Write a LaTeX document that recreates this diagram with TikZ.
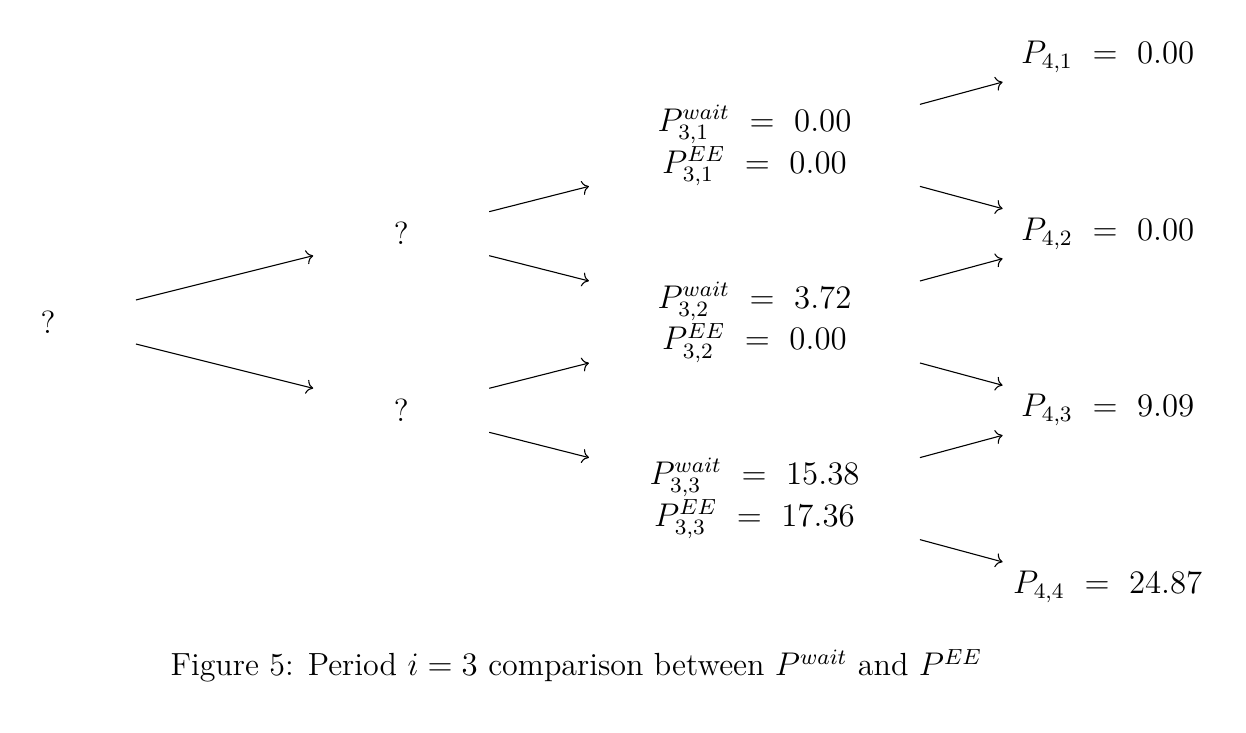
\documentclass[tikz,border=0pt]{standalone}
\usepackage{amsmath}
\usepackage{amssymb}
\usepackage{tikz}
\usetikzlibrary{positioning,calc,arrows.meta}

\begin{document}
\begin{tikzpicture}[x=1.134cm, y=1.134cm]
	\tikzset{
		qnode/.style={inner sep=0pt, outer sep=0pt, minimum width=2.26cm, minimum height=0.565cm, font=\fontsize{11.7pt}{13.6pt}\selectfont},
		pnode/.style={inner sep=0pt, outer sep=0pt, minimum width=4.25cm, minimum height=1.053cm, align=center, font=\fontsize{11.7pt}{13.6pt}\selectfont},
		lnode/.style={inner sep=0pt, outer sep=0pt, minimum width=2.70cm, minimum height=0.642cm, font=\fontsize{11.7pt}{13.6pt}\selectfont},
		bedge/.style={->}
	}
	\useasboundingbox (-0.543,3.646) rectangle (13.566,-4.643);
	
	% period 1 and 2
	\node[qnode] (q0) at (0,0) {?};
	\node[qnode] (q11) at (4,1) {?};
	\node[qnode] (q12) at (4,-1) {?};
	
	% period 3
	\node[pnode] (p31) at (8,2) {$P^{wait}_{3,1}\ =\ 0.00$\\$P^{EE}_{3,1}\ =\ 0.00$};
	\node[pnode] (p32) at (8,0) {$P^{wait}_{3,2}\ =\ 3.72$\\$P^{EE}_{3,2}\ =\ 0.00$};
	\node[pnode] (p33) at (8,-2) {$P^{wait}_{3,3}\ =\ 15.38$\\$P^{EE}_{3,3}\ =\ 17.36$};
	
	% period 4
	\node[lnode] (p41) at (12,3) {$P_{4,1}\ =\ 0.00$};
	\node[lnode] (p42) at (12,1) {$P_{4,2}\ =\ 0.00$};
	\node[lnode] (p43) at (12,-1) {$P_{4,3}\ =\ 9.09$};
	\node[lnode] (p44) at (12,-3) {$P_{4,4}\ =\ 24.87$};
	
	\foreach \p/\c in {q0/q11, q11/p31, q12/p32, p31/p41, p32/p42, p33/p43}
		\draw[bedge] (\p.north east) -- (\c.south west);
	\foreach \p/\c in {q0/q12, q11/p32, q12/p33, p31/p42, p32/p43, p33/p44}
		\draw[bedge] (\p.south east) -- (\c.north west);
	
	\node[anchor=base, font=\fontsize{11.7pt}{13.6pt}\selectfont] (cap) at (5.983,-4.008) {Figure 5: Period $i=3$ comparison between $P^{wait}$ and $P^{EE}$};
\end{tikzpicture}
\end{document}
